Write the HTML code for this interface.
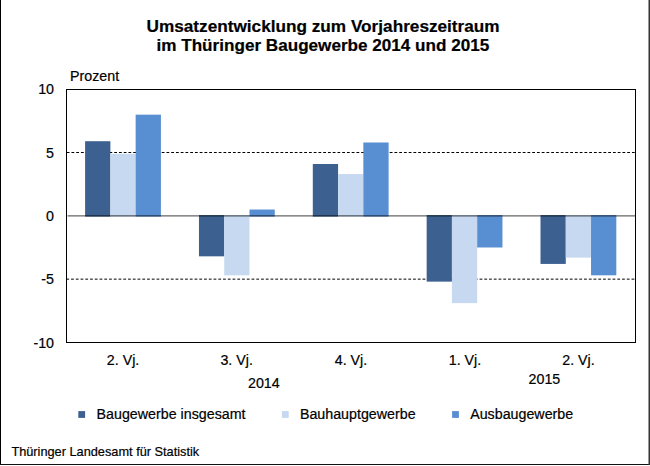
<!DOCTYPE html>
<html><head><meta charset="utf-8">
<style>
html,body{margin:0;padding:0;background:#fff;}
body{width:650px;height:466px;position:relative;overflow:hidden;font-family:"Liberation Sans",sans-serif;color:#000;}
.t{position:absolute;white-space:nowrap;line-height:1;font-size:14.25px;-webkit-text-stroke:0.2px #000;}
.c{transform:translateX(-50%);}
.r{transform:translateX(-100%);}
svg{position:absolute;left:0;top:0;}
</style></head><body>
<svg width="650" height="466" viewBox="0 0 650 466" shape-rendering="crispEdges">
<!-- gridlines -->
<g shape-rendering="geometricPrecision" stroke="#000" stroke-width="1" stroke-dasharray="2.8,1.95">
<line x1="66.7" y1="152.5" x2="635" y2="152.5"/>
<line x1="66.3" y1="279.15" x2="635" y2="279.15"/>
</g>
<!-- bars -->
<g shape-rendering="geometricPrecision">
<g fill="#3c6090">
<rect x="85.10" y="141.21" width="25.27" height="75.39"/>
<rect x="198.95" y="215.10" width="25.27" height="41.23"/>
<rect x="312.80" y="163.99" width="25.27" height="52.61"/>
<rect x="426.65" y="215.10" width="25.27" height="66.53"/>
<rect x="540.50" y="215.10" width="25.27" height="48.82"/>
</g>
<g fill="#c6d9f1">
<rect x="110.37" y="153.86" width="25.27" height="62.74"/>
<rect x="224.22" y="215.10" width="25.27" height="60.21"/>
<rect x="338.07" y="174.10" width="25.27" height="42.50"/>
<rect x="451.92" y="215.10" width="25.27" height="88.03"/>
<rect x="565.77" y="215.10" width="25.27" height="42.49"/>
</g>
<g fill="#588ed2">
<rect x="135.64" y="114.65" width="25.27" height="101.95"/>
<rect x="249.49" y="209.53" width="25.27" height="7.07"/>
<rect x="363.34" y="142.48" width="25.27" height="74.12"/>
<rect x="477.19" y="215.10" width="25.27" height="32.38"/>
<rect x="591.04" y="215.10" width="25.27" height="60.21"/>
</g>
<!-- zero line -->
<rect x="67.6" y="215.10" width="567.4" height="1.5" fill="rgba(0,0,0,0.5)"/>
</g>
<!-- plot border -->
<rect x="66.5" y="89.5" width="569" height="253" fill="none" stroke="#000" stroke-width="1"/>
<!-- legend --><g shape-rendering="geometricPrecision">
<rect x="78.3" y="411.1" width="6.8" height="6.8" fill="#3c6090"/>
<rect x="281.9" y="411.1" width="6.8" height="6.8" fill="#c6d9f1"/>
<rect x="452.1" y="411.1" width="6.8" height="6.8" fill="#588ed2"/>
</g><!-- outer border -->
<rect x="0" y="0" width="1" height="465" fill="#000"/>
<rect x="0" y="464" width="650" height="1" fill="#111"/>
<rect x="648.5" y="0" width="1.5" height="465" fill="#333" shape-rendering="geometricPrecision"/>
</svg>
<div class="t c" style="left:323.1px;top:18px;font-size:17.2px;font-weight:bold;">Umsatzentwicklung zum Vorjahreszeitraum</div>
<div class="t c" style="left:322.9px;top:37px;font-size:17.12px;font-weight:bold;">im Thüringer Baugewerbe 2014 und 2015</div>
<div class="t" style="left:70px;top:69px;">Prozent</div>
<div class="t r" style="left:54px;top:82px;">10</div>
<div class="t r" style="left:54px;top:146px;">5</div>
<div class="t r" style="left:54px;top:209px;">0</div>
<div class="t r" style="left:54px;top:272px;">-5</div>
<div class="t r" style="left:54px;top:336px;">-10</div>
<div class="t c" style="left:123.1px;top:352.8px;">2. Vj.</div>
<div class="t c" style="left:236.7px;top:352.8px;">3. Vj.</div>
<div class="t c" style="left:351px;top:352.8px;">4. Vj.</div>
<div class="t c" style="left:465px;top:352.8px;">1. Vj.</div>
<div class="t c" style="left:578.5px;top:352.8px;">2. Vj.</div>
<div class="t" style="left:248px;top:375.7px;">2014</div>
<div class="t" style="left:528.6px;top:371.6px;">2015</div>
<div class="t" style="left:96.6px;top:407.1px;">Baugewerbe insgesamt</div>
<div class="t" style="left:299.9px;top:407.1px;">Bauhauptgewerbe</div>
<div class="t" style="left:470.2px;top:407.1px;">Ausbaugewerbe</div>
<div class="t" style="left:11.4px;top:445.7px;font-size:12.75px;">Thüringer Landesamt für Statistik</div>
</body></html>
